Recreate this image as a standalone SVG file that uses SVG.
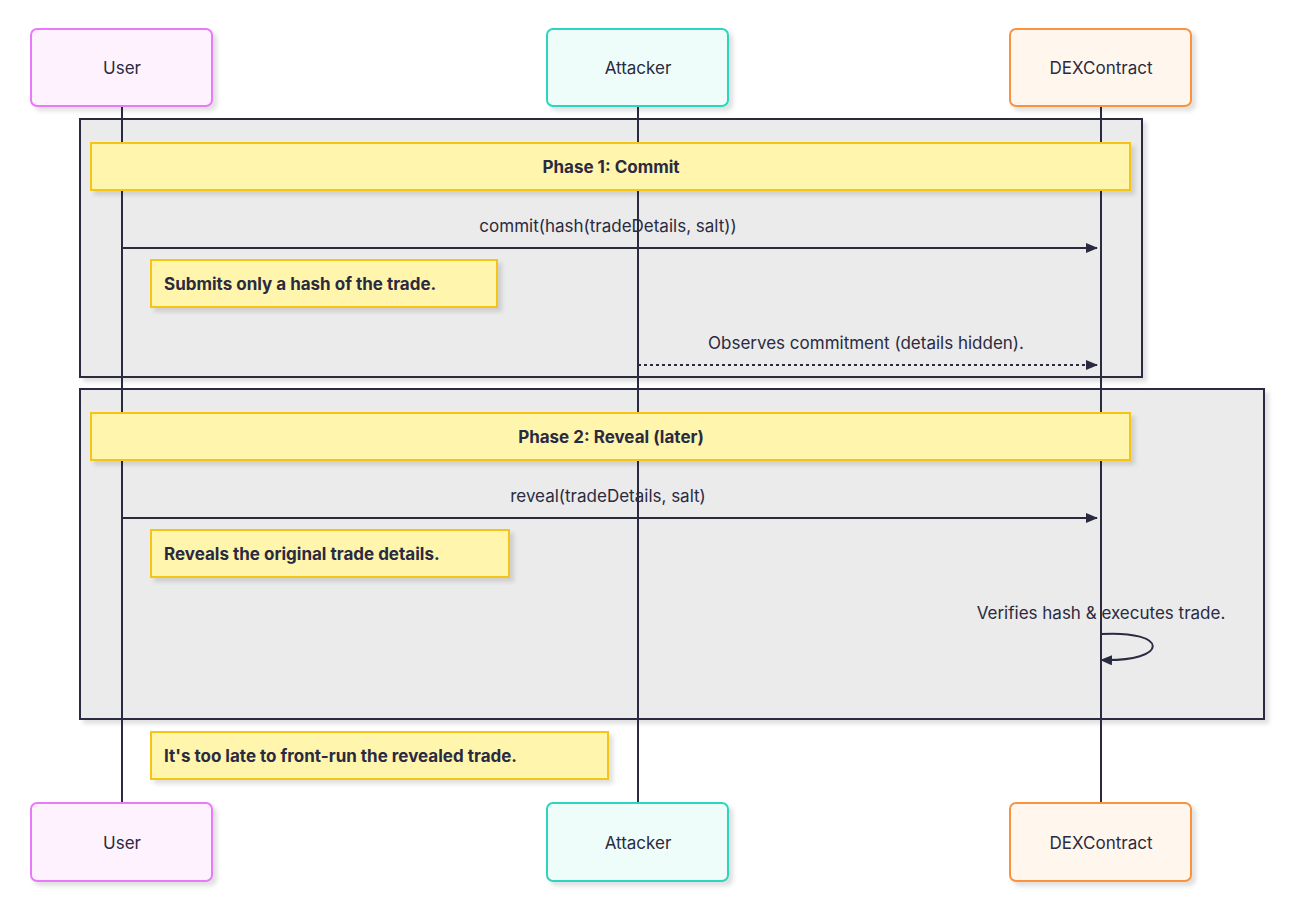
<svg xmlns="http://www.w3.org/2000/svg" width="1293" height="907" viewBox="0 0 1293 907">
<defs>
<filter id="sh" x="-5%" y="-5%" width="110%" height="120%"><feDropShadow dx="4" dy="4" stdDeviation="2" flood-color="#000" flood-opacity="0.12"/></filter>
<marker id="ah" markerWidth="12" markerHeight="10" refX="11" refY="5" orient="auto" markerUnits="userSpaceOnUse"><path d="M0,0 L12,5 L0,10 z" fill="#2a2a40"/></marker>
<style>
text{font-family:Inter,"Liberation Sans",sans-serif;fill:#2a2a40;font-size:17px}
.b{font-weight:bold}
.grp{fill:#ebebeb;stroke:#2a2a40;stroke-width:2}
.note{fill:#fff5ad;stroke:#f5c518;stroke-width:2;filter:url(#sh)}
.life{stroke:#2a2a40;stroke-width:2}
.msg{stroke:#2a2a40;stroke-width:2;fill:none}
</style>
</defs>
<rect width="1293" height="907" fill="#fff"/>
<rect class="grp" x="80" y="119" width="1062" height="258" filter="url(#sh)"/>
<rect class="grp" x="80" y="389" width="1184" height="330" filter="url(#sh)"/>
<g id="lifelines">
<line class="life" x1="122" y1="106" x2="122" y2="803"/>
<line class="life" x1="638" y1="106" x2="638" y2="803"/>
<line class="life" x1="1101" y1="106" x2="1101" y2="803"/>
</g>
<g id="user"><rect x="31" y="29" width="181" height="77" rx="6" fill="#fdf2fd" stroke="#e879f9" stroke-width="2" filter="url(#sh)"/><text x="122" y="74" text-anchor="middle">User</text></g>
<g id="attacker"><rect x="547" y="29" width="181" height="77" rx="6" fill="#effdfa" stroke="#2dd4bf" stroke-width="2" filter="url(#sh)"/><text x="638" y="74" text-anchor="middle">Attacker</text></g>
<g id="dex"><rect x="1010" y="29" width="181" height="77" rx="6" fill="#fff6ee" stroke="#fb923c" stroke-width="2" filter="url(#sh)"/><text x="1101" y="74" text-anchor="middle">DEXContract</text></g>
<g id="user-b"><rect x="31" y="803" width="181" height="78" rx="6" fill="#fdf2fd" stroke="#e879f9" stroke-width="2" filter="url(#sh)"/><text x="122" y="849" text-anchor="middle">User</text></g>
<g id="attacker-b"><rect x="547" y="803" width="181" height="78" rx="6" fill="#effdfa" stroke="#2dd4bf" stroke-width="2" filter="url(#sh)"/><text x="638" y="849" text-anchor="middle">Attacker</text></g>
<g id="dex-b"><rect x="1010" y="803" width="181" height="78" rx="6" fill="#fff6ee" stroke="#fb923c" stroke-width="2" filter="url(#sh)"/><text x="1101" y="849" text-anchor="middle">DEXContract</text></g>
<g id="phase1"><rect class="note" x="91" y="143" width="1039" height="47"/><text class="b" x="611" y="173" text-anchor="middle">Phase 1: Commit</text></g>
<g id="phase2"><rect class="note" x="91" y="413" width="1039" height="47"/><text class="b" x="611" y="443" text-anchor="middle">Phase 2: Reveal (later)</text></g>
<g id="note1"><rect class="note" x="151" y="260" width="346" height="47"/><text class="b" x="164" y="290">Submits only a hash of the trade.</text></g>
<g id="note2"><rect class="note" x="151" y="530" width="358" height="47"/><text class="b" x="164" y="560">Reveals the original trade details.</text></g>
<g id="note3"><rect class="note" x="151" y="732" width="457" height="47"/><text class="b" x="164" y="762">It's too late to front-run the revealed trade.</text></g>
<g id="connectors">
<line class="msg" x1="122" y1="248" x2="1097" y2="248" marker-end="url(#ah)"/>
<text x="608" y="232" text-anchor="middle">commit(hash(tradeDetails, salt))</text>
<line class="msg" x1="638" y1="365" x2="1097" y2="365" stroke-dasharray="3,3" marker-end="url(#ah)"/>
<text x="866" y="349" text-anchor="middle">Observes commitment (details hidden).</text>
<line class="msg" x1="122" y1="518" x2="1097" y2="518" marker-end="url(#ah)"/>
<text x="608" y="502" text-anchor="middle">reveal(tradeDetails, salt)</text>
<path class="msg" d="M1101,634 C1170,630 1170,662 1101,660" marker-end="url(#ah)"/>
<text x="1101" y="619" text-anchor="middle">Verifies hash &amp; executes trade.</text>
</g>
</svg>
